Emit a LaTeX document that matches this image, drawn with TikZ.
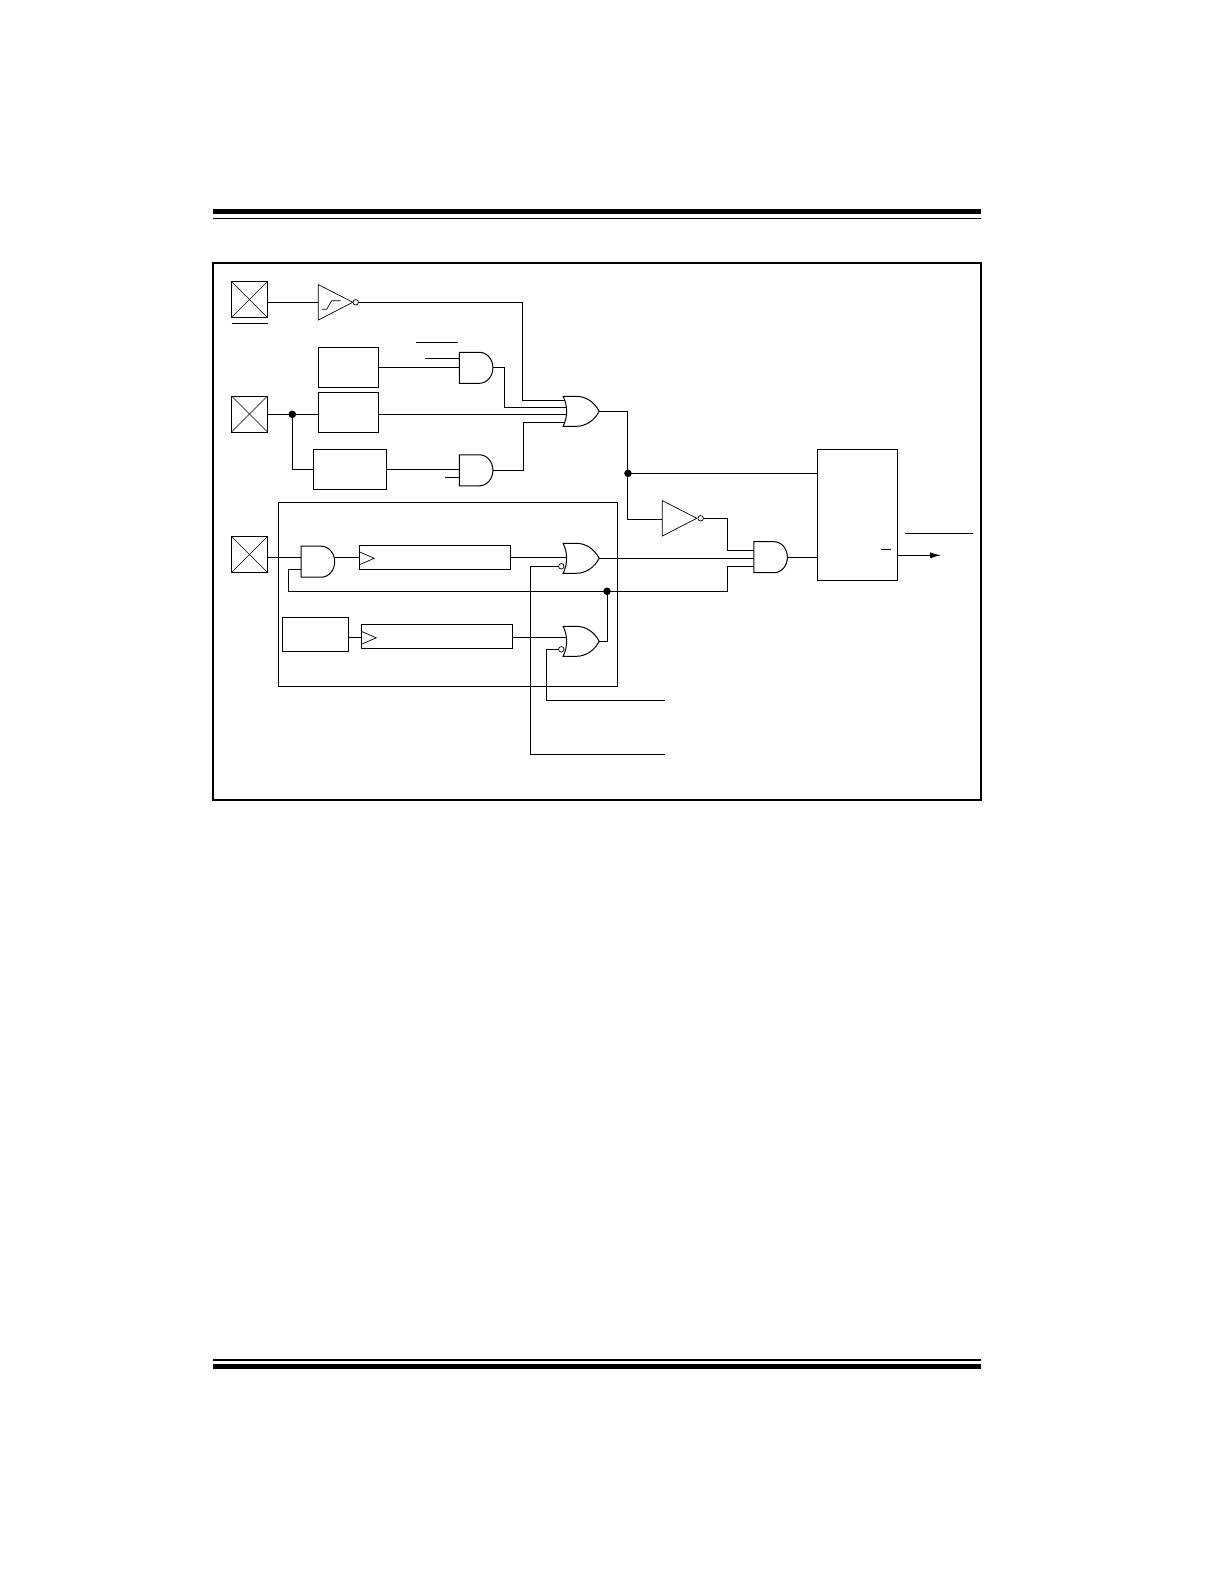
\documentclass[tikz,border=0pt]{standalone}
\usetikzlibrary{shapes.geometric,shapes.gates.logic.US,arrows.meta}
\tikzset{
	block/.style={draw,rectangle,inner sep=0,outer sep=0},
	padbox/.style={block,minimum size=36,path picture={
		\draw[line width=0.6] (path picture bounding box.north west) -- (path picture bounding box.south east);
		\draw[line width=0.6] (path picture bounding box.south west) -- (path picture bounding box.north east);}},
	andgate/.style={draw,and gate US,logic gate inputs=nn,logic gate input sep=8,inner sep=0,outer sep=0,minimum height=31,xscale=0.866,transform shape},
	orgate/.style={draw,or gate US,logic gate inputs=nnnn,logic gate input sep=5.6,inner sep=0,outer sep=0,minimum height=29,xscale=0.88,transform shape},
	invgate/.style={draw,isosceles triangle,isosceles triangle stretches,inner sep=0,outer sep=0,minimum width=35.5,minimum height=34.5,anchor=lower side,line width=0.7},
	bubble/.style={draw,circle,inner sep=0,outer sep=0,minimum size=5.5,fill=white,line width=0.7},
	jdot/.style={draw,circle,fill=black,inner sep=0,outer sep=0,minimum size=6.5},
}
\begin{document}
\begin{tikzpicture}[x=1pt,y=-1pt,line width=1]
	\useasboundingbox (0,0) rectangle (1225,1585);
	% page rules
	\fill (213,209) rectangle (981,214);
	\fill (213,217.5) rectangle (981,219);
	\fill (213,1359) rectangle (981,1361);
	\fill (213,1364) rectangle (981,1369);
	\node[block,line width=2,minimum width=768,minimum height=537] (frame) at (597,531.5) {};
	% inner box
	\node[block,minimum width=339,minimum height=183.5] (inner) at (447.8,594.5) {};
	% pads
	\node[padbox] (pad1) at (249.5,299.5) {};
	\node[padbox] (pad2) at (249.5,414) {};
	\node[padbox] (pad3) at (249.5,554.5) {};
	\draw (pad1.south west)++(0,6) -- ([yshift=-6]pad1.south east);
	% blocks
	\node[block,minimum width=60,minimum height=40] (boxa) at (348.3,367.3) {};
	\node[block,minimum width=60,minimum height=40] (boxb) at (348.3,412.3) {};
	\node[block,minimum width=73.4,minimum height=40] (boxc) at (350,469.3) {};
	\node[block,minimum width=66,minimum height=34] (boxe) at (315.3,634.3) {};
	\node[block,minimum width=151.4,minimum height=24] (cnta) at (435,557.3) {};
	\node[block,minimum width=151.4,minimum height=24] (cntb) at (437,636.3) {};
	\node[block,minimum width=80,minimum height=131] (latch) at (857.3,514.8) {};
	% clock marks
	\draw[line width=0.7] (cnta.west)++(0,-5.5) -- ++(15,6.5) -- ++(-15,6.5);
	\draw[line width=0.7] (cntb.west)++(0,-5) -- ++(15,6.5) -- ++(-15,6.5);
	% gates
	\node[andgate] (and1) at (475,367.8) {};
	\node[andgate] (and2) at (475,470.3) {};
	\node[andgate] (and3) at (316.8,561.7) {};
	\node[andgate] (and4) at (769.5,557.2) {};
	\node[orgate] (or1) at (578.5,411.3) {};
	\node[orgate] (or2) at (578.5,558.3) {};
	\node[orgate] (or3) at (578.5,641.3) {};
	\node[invgate] (schm) at (318.3,302.3) {};
	\node[invgate] (inv) at (662.3,518.3) {};
	\node[bubble] (bub1) at (355.7,302.3) {};
	\node[bubble] (bub2) at (700.7,518.3) {};
	\node[bubble] (bub3) at (561.3,566.3) {};
	\node[bubble] (bub4) at (561.3,649.3) {};
	\draw[line width=0.7] (321.7,309.3) -- (326.7,309.3) -- (331.7,300.7) -- (340.7,300.7);
	% dots
	\node[jdot] (d1) at (292.3,414.3) {};
	\node[jdot] (d2) at (628,473.3) {};
	\node[jdot] (d3) at (607,591.3) {};
	% corners and free ends
	\coordinate (bar1) at (425,358.3);
	\coordinate (bar2) at (445,477.3);
	\coordinate (endr) at (665,700.3);
	\coordinate (ends) at (665,754.3);
	\coordinate (arrowend) at (941,555.3);
	\coordinate (cor1) at (522.3,400.3);
	\coordinate (cor2) at (504.3,407.3);
	\coordinate (cor3) at (523.3,422.3);
	\coordinate (cor4) at (627.3,519.3);
	\coordinate (cor5) at (727.3,550.3);
	\coordinate (cor6) at (727.3,566.3);
	\coordinate (cor7) at (288.3,591.3);
	\coordinate (cor8) at (288.3,569.3);
	\coordinate (clkb) at (361.3,637.3);
	% wires
	\draw (pad1.east |- schm.lower side) -- (schm.lower side);
	\draw (bub1.east) -| (cor1) -- (or1.input 1 |- cor1);
	\draw (boxa.east) -- (boxa.east -| and1.west);
	\draw (bar1) -- (bar1 -| and1.west);
	\draw (and1.east) -| (cor2) -- (or1.input 2 |- cor2);
	\draw (pad2.east |- d1) -- (d1) -- (d1 -| boxb.west);
	\draw (boxb.east |- d1) -- (or1.input 3 |- d1);
	\draw (d1) |- (boxc.west);
	\draw (boxc.east) -- (boxc.east -| and2.west);
	\draw (bar2) -- (bar2 -| and2.west);
	\draw (and2.east) -| (cor3) -- (or1.input 4 |- cor3);
	\draw (or1.east) -| (cor4) -- (inv.lower side |- cor4);
	\draw (d2) -- (d2 -| latch.west);
	\draw (bub2.east) -| (cor5) -- (cor5 -| and4.west);
	\draw (or2.east) -- (or2.east -| and4.west);
	\draw (d3) -| (cor6) -- (cor6 -| and4.west);
	\draw (and4.east) -- (and4.east -| latch.west);
	\draw[-{Latex[length=11,width=6]}] (latch.east |- arrowend) -- (arrowend);
	\draw (pad3.east |- cnta.west) -- (and3.west |- cnta.west);
	\draw (and3.east |- cnta.west) -- (cnta.west);
	\draw (cnta.east) -- (or2.input 2 |- cnta.east);
	\draw (d3) -- (cor7) -- (cor8) -- (cor8 -| and3.west);
	\draw (boxe.east |- clkb) -- (clkb);
	\draw (cntb.east |- clkb) -- (or3.input 2 |- clkb);
	\draw (or3.east) -| (d3);
	\draw (bub3.west) -| (ends -| 530.3,0) -- (ends);
	\draw (bub4.west) -| (endr -| 546.3,0) -- (endr);
	% bars
	\draw (416,342.3) -- (457.7,342.3);
	\draw (905,533.3) -- (973,533.3);
	\draw (881,549.3) -- (891,549.3);
\end{tikzpicture}
\end{document}
